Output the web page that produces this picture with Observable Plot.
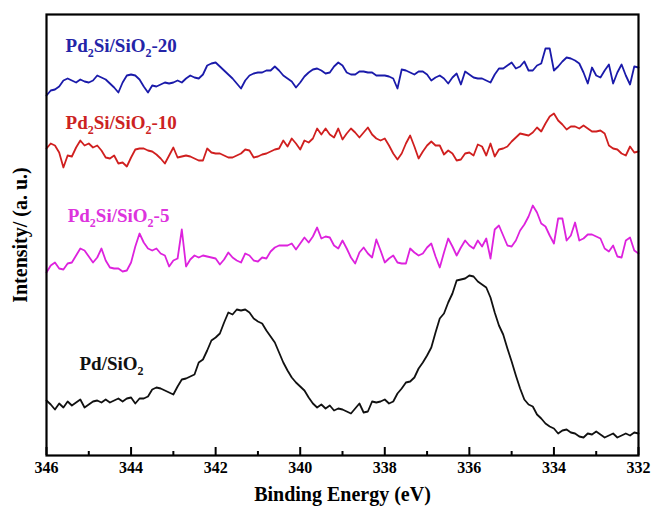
<!DOCTYPE html>
<html>
<head>
<meta charset="utf-8">
<script src="https://cdn.jsdelivr.net/npm/d3@7"></script>
<script src="https://cdn.jsdelivr.net/npm/@observablehq/plot@0.6"></script>
<style>
  html, body { margin: 0; padding: 0; background: #fff; }
</style>
</head>
<body>
<div id="chart"></div>
<script>
// Binding energy grid (eV), 0.1 eV steps
const energies = [
  346.0,345.9,345.8,345.7,345.6,345.5,345.4,345.3,345.2,345.1,
  345.0,344.9,344.8,344.7,344.6,344.5,344.4,344.3,344.2,344.1,
  344.0,343.9,343.8,343.7,343.6,343.5,343.4,343.3,343.2,343.1,
  343.0,342.9,342.8,342.7,342.6,342.5,342.4,342.3,342.2,342.1,
  342.0,341.9,341.8,341.7,341.6,341.5,341.4,341.3,341.2,341.1,
  341.0,340.9,340.8,340.7,340.6,340.5,340.4,340.3,340.2,340.1,
  340.0,339.9,339.8,339.7,339.6,339.5,339.4,339.3,339.2,339.1,
  339.0,338.9,338.8,338.7,338.6,338.5,338.4,338.3,338.2,338.1,
  338.0,337.9,337.8,337.7,337.6,337.5,337.4,337.3,337.2,337.1,
  337.0,336.9,336.8,336.7,336.6,336.5,336.4,336.3,336.2,336.1,
  336.0,335.9,335.8,335.7,335.6,335.5,335.4,335.3,335.2,335.1,
  335.0,334.9,334.8,334.7,334.6,334.5,334.4,334.3,334.2,334.1,
  334.0,333.9,333.8,333.7,333.6,333.5,333.4,333.3,333.2,333.1,
  333.0,332.9,332.8,332.7,332.6,332.5,332.4,332.3,332.2,332.1,
  332.0
];

// Intensities (a.u., stacked/offset as in the figure)
const pdSiO2 = [
  55,51,46,52,48,54,50,53,56,48,
  51,54,55,53,56,53,55,57,54,57,
  58,52,57,57,59,66,68,67,65,63,
  61,69,76,77,79,81,93,96,105,115,
  118,122,133,143,141,146,145,146,143,137,
  134,132,125,119,113,103,93,85,78,73,
  69,65,58,52,48,51,47,50,45,47,
  46,44,42,47,52,43,44,54,53,54,
  56,52,54,62,67,73,74,78,87,93,
  100,108,123,137,142,153,162,175,176,177,
  180,179,174,171,168,158,143,130,121,107,
  94,80,67,56,51,49,41,37,32,29,
  27,22,25,26,23,22,19,18,22,21,
  24,21,18,20,22,18,20,22,20,23,
  22
];
const pd2si5 = [
  183,190,193,187,186,192,193,200,207,205,
  199,193,198,207,195,188,187,187,184,185,
  193,209,222,213,207,205,207,202,200,189,
  195,197,226,189,196,200,198,200,199,198,
  197,191,196,203,198,195,193,202,200,195,
  194,198,197,204,208,210,210,210,212,206,
  212,218,213,219,228,217,219,218,210,207,
  215,207,198,192,203,208,202,198,216,205,
  193,197,200,193,192,192,207,203,200,202,
  208,212,199,188,203,217,209,200,208,215,
  210,207,215,209,217,197,226,230,220,210,
  209,215,225,231,239,250,243,232,229,220,
  212,237,237,215,220,233,215,217,221,221,
  219,217,207,204,210,199,198,215,218,205,
  202
];
const pd2si10 = [
  307,312,310,303,288,300,299,308,315,310,
  312,308,310,305,298,297,300,292,293,289,
  298,306,307,307,305,304,301,297,292,300,
  308,298,299,300,299,297,295,295,307,303,
  302,302,300,298,298,300,302,306,305,298,
  299,301,302,304,306,307,315,309,317,312,
  306,315,313,317,327,321,327,321,318,327,
  316,322,327,323,318,323,328,321,317,315,
  317,310,302,296,302,312,320,309,297,304,
  310,314,310,310,301,305,302,295,296,302,
  303,300,311,309,300,312,299,306,307,309,
  314,318,322,321,320,323,328,324,332,339,
  342,335,331,326,329,329,327,330,327,324,
  324,325,322,310,307,306,302,300,309,303,
  304
];
const pd2si20 = [
  360,365,366,369,375,377,375,373,376,374,
  373,375,380,378,376,372,368,363,373,380,
  381,380,376,369,363,370,369,371,373,372,
  373,375,373,377,380,378,377,381,390,392,
  393,389,385,381,377,372,367,375,380,382,
  383,383,385,385,389,385,380,377,374,368,
  373,379,383,386,387,385,382,383,389,393,
  390,383,381,381,384,384,383,383,380,380,
  380,379,377,367,386,385,383,381,384,384,
  381,375,378,380,377,372,378,382,371,384,
  381,378,377,377,375,373,381,387,387,390,
  393,387,389,394,385,385,390,392,407,407,
  385,389,394,398,397,395,392,383,372,388,
  380,378,385,391,372,383,391,380,371,389,
  388
];

const seriesNames = ["Pd/SiO2", "Pd2Si/SiO2-5", "Pd2Si/SiO2-10", "Pd2Si/SiO2-20"];
const seriesValues = [pdSiO2, pd2si5, pd2si10, pd2si20];
const seriesColors = ["#111111", "#dd22dd", "#d01f1f", "#1a1aaa"];
const labelColors = ["#111111", "#dd33dd", "#cc2222", "#2424a8"];
const labelEnergy = [345.22, 345.5, 345.55, 345.55];
const labelIntensity = [86, 234, 327, 404];

const majorTicks = [346, 344, 342, 340, 338, 336, 334, 332];
const minorTicks = [345, 343, 341, 339, 337, 335, 333];
const xTitle = "Binding Energy (eV)";
const yTitle = "Intensity/ (a. u.)";

const W = 655, H = 511, mL = 46, mR = 17, mT = 14, mB = 56;
const plotH = H - mT - mB;

const lineData = seriesNames.flatMap((name, s) =>
  energies.map((e, i) => ({series: name, energy: e, intensity: seriesValues[s][i]})));
const labelData = seriesNames.map((name, s) => ({
  name, energy: labelEnergy[s], intensity: labelIntensity[s], color: labelColors[s]
}));

const chart = Plot.plot({
  width: W, height: H,
  marginLeft: mL, marginRight: mR, marginTop: mT, marginBottom: mB,
  style: {fontFamily: "'Liberation Serif', 'Times New Roman', serif", fontWeight: "bold", background: "#fff", color: "#000"},
  x: {domain: [346, 332], axis: null},
  y: {domain: [0, 441], axis: null},
  color: {domain: seriesNames, range: seriesColors},
  marks: [
    Plot.line(lineData, {x: "energy", y: "intensity", z: "series", stroke: "series", strokeWidth: 1.8, strokeLinejoin: "round"}),
    Plot.ruleX(majorTicks, {insetTop: plotH - 8, stroke: "#000", strokeWidth: 2}),
    Plot.ruleX(minorTicks, {insetTop: plotH - 4, stroke: "#000", strokeWidth: 2}),
    Plot.axisX(majorTicks, {tickSize: 0, tickPadding: 6, fontSize: 16, tickFormat: d => String(d), label: null}),
    Plot.frame({stroke: "#000", strokeWidth: 2.2}),
    Plot.text(labelData, {x: "energy", y: "intensity", text: "name", fill: d => d.color, textAnchor: "start", lineAnchor: "bottom", fontSize: 19}),
    Plot.text([xTitle], {frameAnchor: "bottom", dy: 39, textAnchor: "middle", lineAnchor: "middle", fontSize: 20}),
    Plot.text([yTitle], {frameAnchor: "left", dx: -26, rotate: -90, textAnchor: "middle", lineAnchor: "middle", fontSize: 20})
  ]
});

// Render subscripts in chemical formulas (e.g. Pd2Si/SiO2 -> Pd₂Si/SiO₂)
chart.querySelectorAll("text").forEach(t => {
  const s = t.textContent;
  if (!/^Pd/.test(s) || t.children.length > 0) return;
  const runs = [];
  for (let i = 0; i < s.length; i++) {
    const sub = s[i] === "2" && (s[i - 1] === "d" || s[i - 1] === "O");
    const last = runs[runs.length - 1];
    if (last && last.sub === sub) last.text += s[i];
    else runs.push({text: s[i], sub});
  }
  t.textContent = "";
  let shifted = false;
  runs.forEach(r => {
    const ts = document.createElementNS("http://www.w3.org/2000/svg", "tspan");
    ts.textContent = r.text;
    if (r.sub) { ts.setAttribute("font-size", "12"); ts.setAttribute("dy", "5"); shifted = true; }
    else if (shifted) { ts.setAttribute("dy", "-5"); shifted = false; }
    t.appendChild(ts);
  });
});

document.getElementById("chart").appendChild(chart);
</script>
</body>
</html>
